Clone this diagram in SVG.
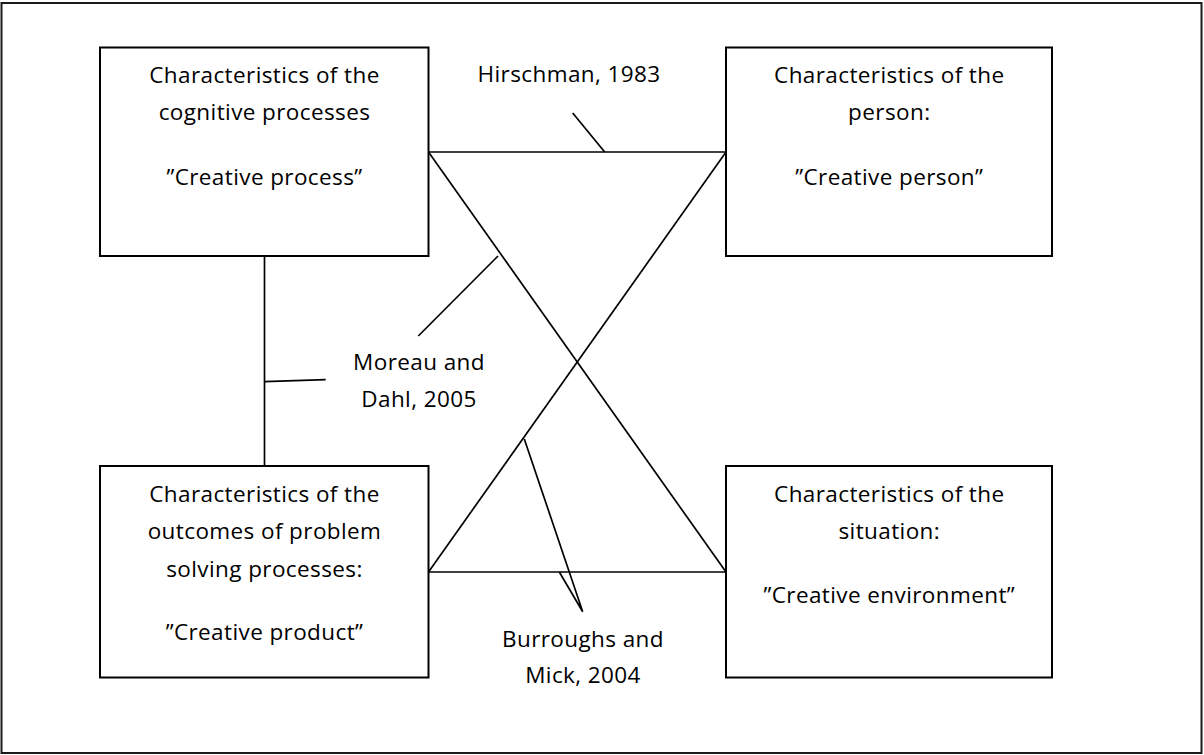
<svg xmlns="http://www.w3.org/2000/svg" width="1204" height="755" viewBox="0 0 1204 755">
  <style>
    .frame { fill: #ffffff; stroke: #1a1a1a; stroke-width: 2; }
    .box { fill: #ffffff; stroke: #000000; stroke-width: 2; }
    .link { fill: none; stroke: #000000; stroke-width: 1.7; }
    text { font-family: "Open Sans", "Noto Sans", "Liberation Sans", sans-serif; font-size: 22.5px; letter-spacing: 0.4px; fill: #000000; text-anchor: middle; font-variant-ligatures: none; }
  </style>

  <!-- outer frame -->
  <rect class="frame" x="1.5" y="3" width="1200" height="750"/>

  <!-- connectors and citation leaders -->
  <g id="connectors">
    <line class="link" x1="428.5" y1="152" x2="726" y2="152"/>
    <line class="link" x1="428.5" y1="572" x2="726" y2="572"/>
    <line class="link" x1="428.5" y1="152" x2="726" y2="572"/>
    <line class="link" x1="726" y1="152" x2="428.5" y2="572"/>
    <line class="link" x1="264.5" y1="256" x2="264.5" y2="466"/>
    <!-- leaders to labels -->
    <line class="link" x1="572.7" y1="113" x2="604.7" y2="152"/>
    <line class="link" x1="418.3" y1="336" x2="498" y2="256"/>
    <line class="link" x1="264.5" y1="381.7" x2="325.7" y2="379.7"/>
    <polyline class="link" points="559.3,572 582.7,611.7 524.3,439"/>
  </g>

  <g id="label-hirschman">
    <text x="569" y="82">Hirschman, 1983</text>
  </g>
  <g id="label-moreau">
    <text x="419" y="370">Moreau and</text>
    <text x="419" y="406.7">Dahl, 2005</text>
  </g>
  <g id="label-burroughs">
    <text x="583" y="646.7">Burroughs and</text>
    <text x="583" y="683">Mick, 2004</text>
  </g>

  <g id="node-process">
    <rect class="box" x="100" y="47.5" width="328.5" height="208.5"/>
    <text x="264.5" y="83.3">Characteristics of the</text>
    <text x="264.5" y="120">cognitive processes</text>
    <text x="264.5" y="185">”Creative process”</text>
  </g>

  <g id="node-person">
    <rect class="box" x="726" y="47.5" width="326" height="208.5"/>
    <text x="889.3" y="83.3">Characteristics of the</text>
    <text x="889.3" y="120">person:</text>
    <text x="889.3" y="185">”Creative person”</text>
  </g>

  <g id="node-product">
    <rect class="box" x="100" y="466" width="328.5" height="211.5"/>
    <text x="264.5" y="501.7">Characteristics of the</text>
    <text x="264.5" y="539">outcomes of problem</text>
    <text x="264.5" y="576.7">solving processes:</text>
    <text x="264.5" y="640">”Creative product”</text>
  </g>

  <g id="node-environment">
    <rect class="box" x="726" y="466" width="326" height="211.5"/>
    <text x="889.3" y="501.7">Characteristics of the</text>
    <text x="889.3" y="539">situation:</text>
    <text x="889.3" y="603.3">”Creative environment”</text>
  </g>
</svg>
